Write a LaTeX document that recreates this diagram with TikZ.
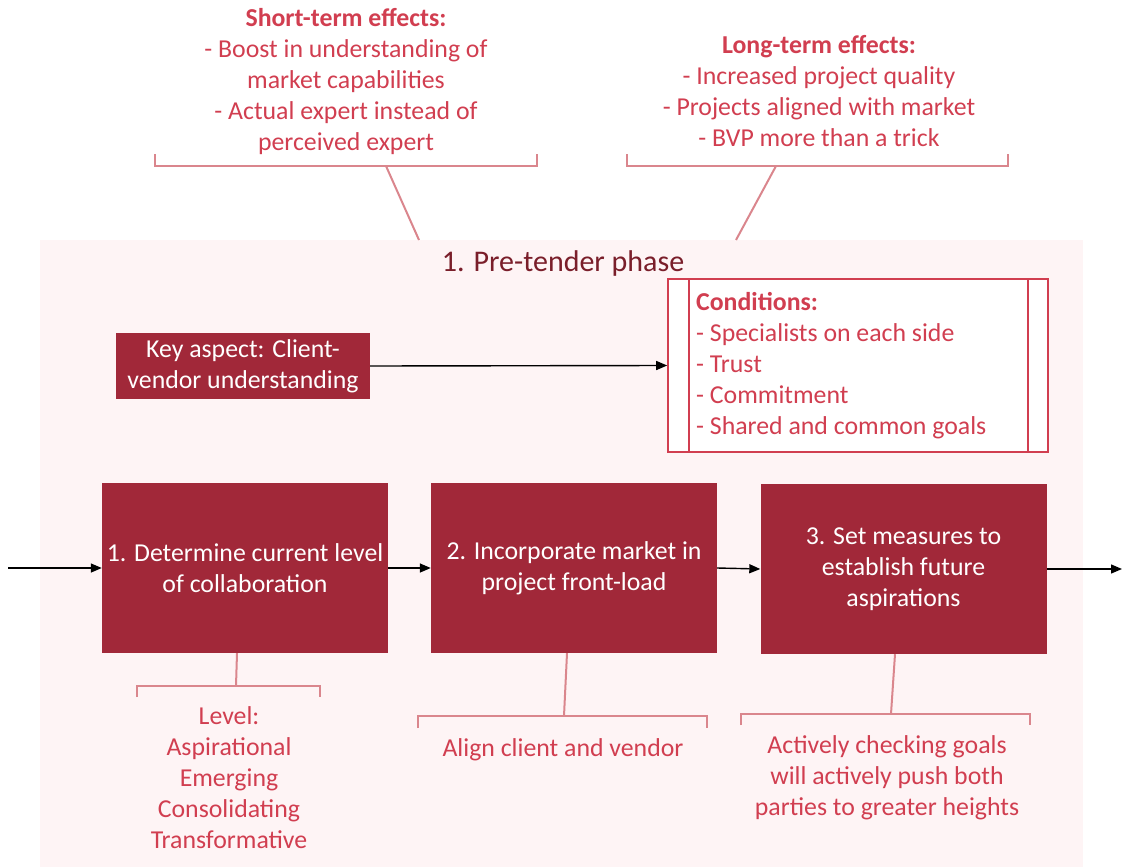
\documentclass[tikz,border=0pt]{standalone}
\usepackage{fontspec}
\setmainfont{Carlito}
\usetikzlibrary{arrows.meta}
\definecolor{boxred}{HTML}{A12839}
\definecolor{textred}{HTML}{D13E50}
\definecolor{linkpink}{HTML}{DA868D}
\definecolor{panelpink}{HTML}{FEF4F5}
\definecolor{titlered}{HTML}{7A1E2A}
\tikzset{
  body/.style={font=\fontsize{25.8}{31}\selectfont},
  stepbox/.style={body, fill=boxred, text=white, align=center, inner sep=0pt,
    minimum width=286pt, minimum height=170pt},
  note/.style={body, text=textred, align=center, inner sep=0pt},
  bracket/.style={draw=linkpink, line width=2pt},
  flow/.style={draw=black, line width=1.4pt, -{Triangle[length=11pt,width=9pt]}},
}
\begin{document}
\begin{tikzpicture}[x=1pt,y=-1pt]
\useasboundingbox (0,0) rectangle (1122,867);

% phase panel
\node[fill=panelpink, inner sep=0pt, minimum width=1043pt, minimum height=627pt] (phase) at (561.5,553.5) {};
\node[font=\fontsize{30}{36}\selectfont, text=titlered, inner sep=0pt] (title) at (563,264) {1. Pre-tender phase};

% effects above the panel
\node[note] (short) at (346,82) {\textbf{Short-term effects:}\\- Boost in understanding of\\market capabilities\\- Actual expert instead of\\perceived expert};
\node[note] (long) at (819,91) {\textbf{Long-term effects:}\\- Increased project quality\\- Projects aligned with market\\- BVP more than a trick};

\coordinate (sb) at (386,166);
\coordinate (st) at (419,240);
\coordinate (lb) at (776,166);
\coordinate (lt) at (736,240);
\draw[bracket] (155,154) -- (155,166) -- (537,166) -- (537,154);
\draw[bracket] (sb) -- (st);
\draw[bracket] (627,154) -- (627,166) -- (1008,166) -- (1008,154);
\draw[bracket] (lb) -- (lt);

% key aspect and conditions
\node[body, fill=boxred, text=white, align=center, inner sep=0pt, minimum width=254pt, minimum height=66pt] (key) at (243,366) {Key aspect: Client-\\vendor understanding};
\node[draw=textred, line width=1.6pt, fill=white, inner sep=0pt, minimum width=380pt, minimum height=173pt] (cond) at (858,365.5) {};
\draw[draw=textred, line width=1.6pt] ([xshift=22pt]cond.north west) -- ([xshift=22pt]cond.south west);
\draw[draw=textred, line width=1.6pt] ([xshift=-21pt]cond.north east) -- ([xshift=-21pt]cond.south east);
\node[body, text=textred, align=left, anchor=west, inner sep=0pt] (condtext) at (696,365.5) {\textbf{Conditions:}\\- Specialists on each side\\- Trust\\- Commitment\\- Shared and common goals};
\draw[flow] (key.east) -- (cond.west);

% process steps
\node[stepbox] (s1) at (245,568) {1. Determine current level\\of collaboration};
\node[stepbox] (s2) at (574,568) {2. Incorporate market in\\project front-load};
\node[stepbox] (s3) at (903.5,569) {3. Set measures to\\establish future\\aspirations};
\coordinate (in) at (8,568);
\coordinate (out) at (1122,569);
\draw[flow] (in) -- (s1.west);
\draw[flow] (s1.east) -- (s2.west);
\draw[flow] (s2.east) -- (s3.west);
\draw[flow] (s3.east) -- (out);

% notes below the steps
\draw[bracket] ([xshift=-8pt]s1.south) -- (236,686);
\draw[bracket] (137,697) -- (137,686) -- (320,686) -- (320,697);
\node[note] (lvl) at (229,777.5) {Level:\\Aspirational\\Emerging\\Consolidating\\Transformative};

\draw[bracket] ([xshift=-7pt]s2.south) -- (564,716);
\draw[bracket] (418,728) -- (418,716) -- (707,716) -- (707,728);
\node[note] (align) at (563,750) {Align client and vendor};

\draw[bracket] ([xshift=-8.5pt]s3.south) -- (891,714);
\draw[bracket] (741,725) -- (741,714) -- (1030,714) -- (1030,725);
\node[note] (push) at (887,778) {Actively checking goals\\will actively push both\\parties to greater heights};
\end{tikzpicture}
\end{document}
